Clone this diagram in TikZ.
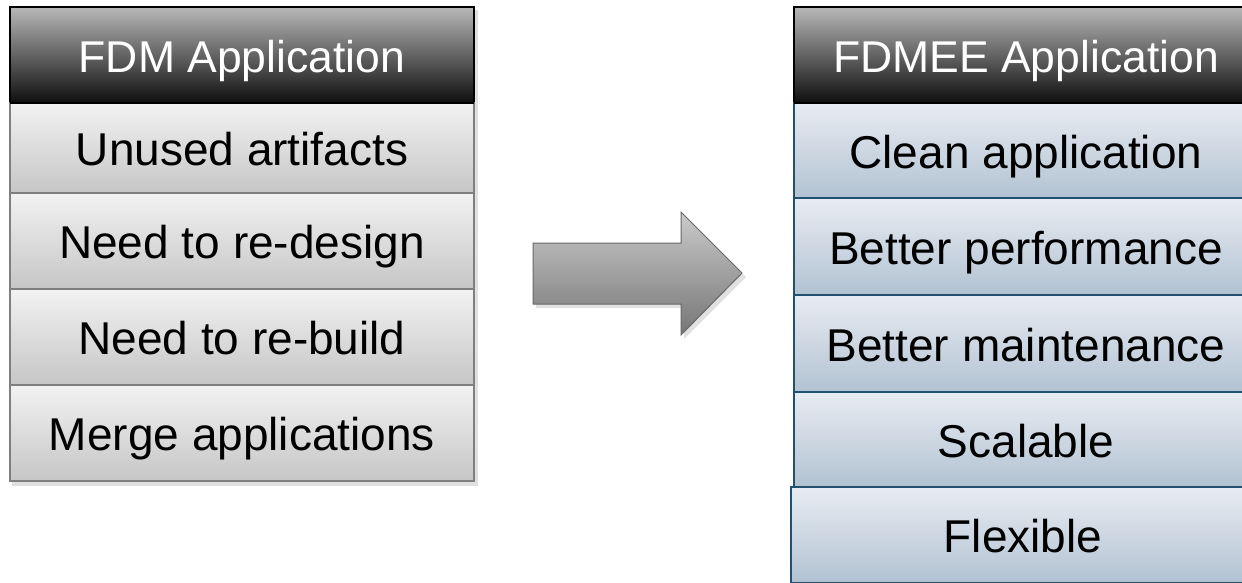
\documentclass[tikz,border=0pt]{standalone}
\usepackage{fontspec}
\setmainfont{Liberation Sans}
\usetikzlibrary{shadows,positioning}
\definecolor{hdtop}{HTML}{B8B8B8}
\definecolor{hdbot}{HTML}{0E0E0E}
\definecolor{gtop}{HTML}{F2F2F2}
\definecolor{gbot}{HTML}{C6C6C6}
\definecolor{gline}{HTML}{7F7F7F}
\definecolor{btop}{HTML}{E8ECF2}
\definecolor{bbot}{HTML}{B2C2D2}
\definecolor{bline}{HTML}{22516F}
\definecolor{atop}{HTML}{CACACA}
\definecolor{abot}{HTML}{767676}
\definecolor{aline}{HTML}{686868}
\tikzset{
  cell/.style={minimum width=464pt, inner sep=0pt, outer sep=0pt,
    text height=35pt, text depth=0pt, font=\fontsize{46}{50}\selectfont},
  header/.style={cell, minimum height=96pt, draw=black, line width=1.2pt,
    top color=hdtop, bottom color=hdbot, text=white, text height=34pt,
    font=\fontsize{44.5}{48}\selectfont},
  grayrow/.style={cell, draw=gline, line width=1.2pt, top color=gtop, bottom color=gbot},
  bluerow/.style={cell, draw=bline, line width=1.2pt, top color=btop, bottom color=bbot},
  shade/.style={fill=black, opacity=0.12},
  bigarrow/.style={draw=aline, line width=1pt, top color=atop, bottom color=abot}
}
\begin{document}
\begin{tikzpicture}[x=1pt,y=-1pt]
\useasboundingbox (0,0) rectangle (1242,582);
\fill[white] (0,0) rectangle (1242,582);
% shadows
\fill[shade] (12,10) rectangle (478,486);
\fill[shade] (797,10) rectangle (1260,590);
\fill[shade] (536,247) -- (684,247) -- (684,216) -- (746,277) -- (684,339) -- (684,308) -- (536,308) -- cycle;
% left column
\node[header, minimum height=96pt] (lh) at (242,55) {FDM Application};
\node[grayrow, minimum height=90pt] (l1) at (242,148) {Unused artifacts};
\node[grayrow, minimum height=96pt] (l2) at (242,241) {Need to re-design};
\node[grayrow, minimum height=96pt] (l3) at (242,337) {Need to re-build};
\node[grayrow, minimum height=96pt] (l4) at (242,433) {Merge applications};
\draw[black, line width=1.2pt] (lh.south west) -- (lh.south east);
% arrow
\draw[bigarrow] (533,243) -- (681,243) -- (681,212) -- (742,273) -- (681,335) -- (681,304) -- (533,304) -- cycle;
% right column
\node[header, minimum height=96pt] (rh) at (1026,55) {FDMEE Application};
\node[bluerow, minimum height=95pt] (r1) at (1026,150.5) {Clean application};
\node[bluerow, minimum height=97pt] (r2) at (1026,246.5) {Better performance};
\node[bluerow, minimum height=97pt] (r3) at (1026,343.5) {Better maintenance};
\node[bluerow, minimum height=95pt] (r4) at (1026,439.5) {Scalable};
\node[bluerow, minimum height=96pt] (r5) at (1023,535) {Flexible};
\draw[black, line width=1.2pt] (rh.south west) -- (rh.south east);
\end{tikzpicture}
\end{document}
